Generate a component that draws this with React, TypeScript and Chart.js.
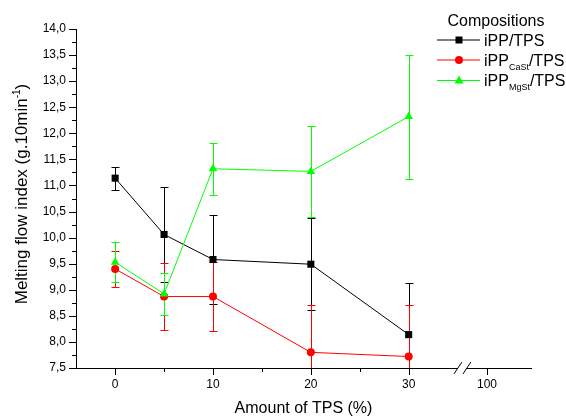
import React, { useEffect, useRef } from 'react';
import { Chart, registerables } from 'chart.js';

Chart.register(...registerables);

// ---- data ----
const categories = [0, 5, 10, 20, 30];
const breakValue = 38; // axis position standing for "100" after the break
const xTickValues = [0, 5, 10, 15, 20, 25, 30, breakValue];
const xTickLabels = ['0', '', '10', '', '20', '', '30', '100'];
const xMajorTicks = [0, 10, 20, 30, breakValue];
const xMinorTicks = [5, 15, 25];

const ippTps = [11.14, 10.06, 9.58, 9.49, 8.14];
const ippTpsErr = [0.22, 0.92, 0.85, 0.88, 0.99];
const ippCaSt = [9.4, 8.87, 8.87, 7.8, 7.72];
const ippCaStErr = [0.35, 0.65, 0.66, 0.91, 0.98];
const ippMgSt = [9.53, 8.92, 11.32, 11.27, 12.32];
const ippMgStErr = [0.39, 0.41, 0.5, 0.87, 1.19];

const labelMain = ['iPP', 'iPP', 'iPP'];
const labelSub = ['', 'CaSt', 'MgSt'];
const labelRest = ['/TPS', '/TPS', '/TPS'];
const seriesColors = ['#000000', '#ff0000', '#00ff00'];
const seriesMarkers = ['rect', 'circle', 'triangle'];
const legendTitle = 'Compositions';
const xTitle = 'Amount of TPS (%)';
const yTitleMain = 'Melting flow index (g.10min';
const yTitleSup = '-1';
const yTitleEnd = ')';

const FONT = '"Liberation Sans", Arial, "DejaVu Sans", sans-serif';

const seriesValues = [ippTps, ippCaSt, ippMgSt];
const seriesErrors = [ippTpsErr, ippCaStErr, ippMgStErr];

function drawMarker(ctx: CanvasRenderingContext2D, style: string, x: number, y: number, color: string) {
  ctx.save();
  ctx.fillStyle = color;
  ctx.beginPath();
  if (style === 'rect') {
    ctx.rect(x - 3.5, y - 3.5, 7, 7);
  } else if (style === 'circle') {
    ctx.arc(x, y, 4, 0, Math.PI * 2);
  } else {
    ctx.moveTo(x, y - 5);
    ctx.lineTo(x + 4.5, y + 3);
    ctx.lineTo(x - 4.5, y + 3);
    ctx.closePath();
  }
  ctx.fill();
  ctx.restore();
}

const decorPlugin = {
  id: 'decor',
  beforeDatasetsDraw(chart: any) {
    const { ctx, chartArea, scales } = chart;
    ctx.save();
    ctx.beginPath();
    ctx.rect(chartArea.left, chartArea.top - 1, chartArea.right - chartArea.left, chartArea.bottom - chartArea.top + 1);
    ctx.clip();
    ctx.lineWidth = 1;
    seriesValues.forEach((vals, si) => {
      ctx.strokeStyle = seriesColors[si];
      vals.forEach((v, i) => {
        const e = seriesErrors[si][i];
        const x = Math.round(scales.x.getPixelForValue(categories[i])) + 0.5;
        const yt = Math.round(scales.y.getPixelForValue(v + e)) + 0.5;
        const yb = Math.round(scales.y.getPixelForValue(v - e)) + 0.5;
        ctx.beginPath();
        ctx.moveTo(x, yt);
        ctx.lineTo(x, yb);
        ctx.moveTo(x - 4, yt);
        ctx.lineTo(x + 4, yt);
        ctx.moveTo(x - 4, yb);
        ctx.lineTo(x + 4, yb);
        ctx.stroke();
      });
    });
    ctx.restore();
  },
  afterDraw(chart: any) {
    const { ctx, chartArea, scales } = chart;
    const xs = scales.x;
    const ys = scales.y;
    ctx.save();
    ctx.strokeStyle = '#000';
    ctx.lineWidth = 1;
    // x ticks
    ctx.beginPath();
    xMajorTicks.forEach((v) => {
      const x = Math.round(xs.getPixelForValue(v)) + 0.5;
      ctx.moveTo(x, chartArea.bottom);
      ctx.lineTo(x, chartArea.bottom + 7);
    });
    xMinorTicks.forEach((v) => {
      const x = Math.round(xs.getPixelForValue(v)) + 0.5;
      ctx.moveTo(x, chartArea.bottom);
      ctx.lineTo(x, chartArea.bottom + 4);
    });
    // y ticks
    for (let k = 0; k <= 26; k++) {
      const v = 7.5 + k * 0.25;
      const y = Math.round(ys.getPixelForValue(v)) + 0.5;
      const len = k % 2 === 0 ? 7 : 4;
      ctx.moveTo(chartArea.left, y);
      ctx.lineTo(chartArea.left - len, y);
    }
    ctx.stroke();

    // axis break
    const bx = xs.getPixelForValue(30) + (xs.getPixelForValue(breakValue) - xs.getPixelForValue(30)) * 0.68;
    const by = chartArea.bottom;
    ctx.fillStyle = '#fff';
    ctx.fillRect(bx - 4, by - 2, 8, 4);
    ctx.beginPath();
    ctx.moveTo(bx - 8, by + 6);
    ctx.lineTo(bx, by - 6);
    ctx.moveTo(bx + 1, by + 6);
    ctx.lineTo(bx + 9, by - 6);
    ctx.stroke();

    // x title
    ctx.fillStyle = '#000';
    ctx.font = `16px ${FONT}`;
    ctx.textAlign = 'center';
    ctx.textBaseline = 'alphabetic';
    ctx.fillText(xTitle, (chartArea.left + chartArea.right) / 2 + 0, 413);

    // y title
    ctx.save();
    ctx.translate(27, 194);
    ctx.rotate(-Math.PI / 2);
    ctx.textAlign = 'left';
    ctx.font = `17px ${FONT}`;
    const w1 = ctx.measureText(yTitleMain).width;
    const w3 = ctx.measureText(yTitleEnd).width;
    ctx.font = `10px ${FONT}`;
    const w2 = ctx.measureText(yTitleSup).width;
    let tx = -(w1 + w2 + w3) / 2;
    ctx.font = `17px ${FONT}`;
    ctx.fillText(yTitleMain, tx, 0);
    tx += w1;
    ctx.font = `10px ${FONT}`;
    ctx.fillText(yTitleSup, tx, -7);
    tx += w2;
    ctx.font = `17px ${FONT}`;
    ctx.fillText(yTitleEnd, tx, 0);
    ctx.restore();

    // legend
    ctx.font = `16px ${FONT}`;
    ctx.textAlign = 'center';
    ctx.fillText(legendTitle, 496, 26);
    const rowY = [39.5, 59.5, 80];
    ctx.textAlign = 'left';
    rowY.forEach((y, i) => {
      ctx.strokeStyle = seriesColors[i];
      ctx.beginPath();
      ctx.moveTo(437, y + 0.5);
      ctx.lineTo(480, y + 0.5);
      ctx.stroke();
      drawMarker(ctx, seriesMarkers[i], 459, y + 0.5, seriesColors[i]);
      ctx.fillStyle = '#000';
      let lx = 484;
      ctx.font = `16px ${FONT}`;
      ctx.fillText(labelMain[i], lx, y + 6);
      lx += ctx.measureText(labelMain[i]).width;
      if (labelSub[i]) {
        ctx.font = `9px ${FONT}`;
        ctx.fillText(labelSub[i], lx, y + 10);
        lx += ctx.measureText(labelSub[i]).width;
      }
      ctx.font = `16px ${FONT}`;
      ctx.fillText(labelRest[i], lx, y + 6);
    });
    ctx.restore();
  },
};

export default function App() {
  const ref = useRef<HTMLCanvasElement | null>(null);
  useEffect(() => {
    if (!ref.current) return;
    const datasets = seriesValues.map((vals, si) => ({
      label: labelMain[si] + labelSub[si] + labelRest[si],
      data: vals.map((v, i) => ({ x: categories[i], y: v })),
      borderColor: seriesColors[si],
      backgroundColor: seriesColors[si],
      borderWidth: 1,
      pointStyle: seriesMarkers[si] as any,
      pointRadius: si === 0 ? 5 : si === 1 ? 4 : 5,
      pointBorderWidth: 0,
      pointHoverRadius: 5,
      tension: 0,
      showLine: true,
      order: 2 - si,
    }));
    const chart = new Chart(ref.current, {
      type: 'line',
      data: { datasets },
      plugins: [decorPlugin],
      options: {
        animation: false,
        responsive: false,
        events: [],
        layout: { padding: { top: 29, right: 35, left: 0, bottom: 0 } },
        plugins: { legend: { display: false }, tooltip: { enabled: false } },
        scales: {
          x: {
            type: 'linear',
            min: -4,
            max: 42.5,
            grid: { display: false, drawTicks: false },
            border: { display: true, color: '#000', width: 1 },
            afterBuildTicks: (scale: any) => {
              scale.ticks = xTickValues.map((v) => ({ value: v }));
            },
            afterFit: (scale: any) => {
              scale.height = 48;
            },
            ticks: {
              autoSkip: false,
              maxRotation: 0,
              padding: 9,
              color: '#000',
              font: { family: FONT, size: 12 },
              callback: (value: any) => {
                const idx = xTickValues.indexOf(Number(value));
                return idx >= 0 ? xTickLabels[idx] : '';
              },
            },
          },
          y: {
            type: 'linear',
            min: 7.5,
            max: 14,
            grid: { display: false, drawTicks: false },
            border: { display: true, color: '#000', width: 1 },
            afterFit: (scale: any) => {
              scale.width = 76;
            },
            ticks: {
              stepSize: 0.5,
              padding: 10,
              color: '#000',
              font: { family: FONT, size: 12 },
              callback: (value: any) => Number(value).toFixed(1).replace('.', ','),
            },
          },
        },
      },
    });
    return () => chart.destroy();
  }, []);
  return (
    <div style={{ position: 'absolute', left: 0, top: 0, width: 566, height: 416, background: '#fff' }}>
      <canvas ref={ref} width={566} height={416} />
    </div>
  );
}
